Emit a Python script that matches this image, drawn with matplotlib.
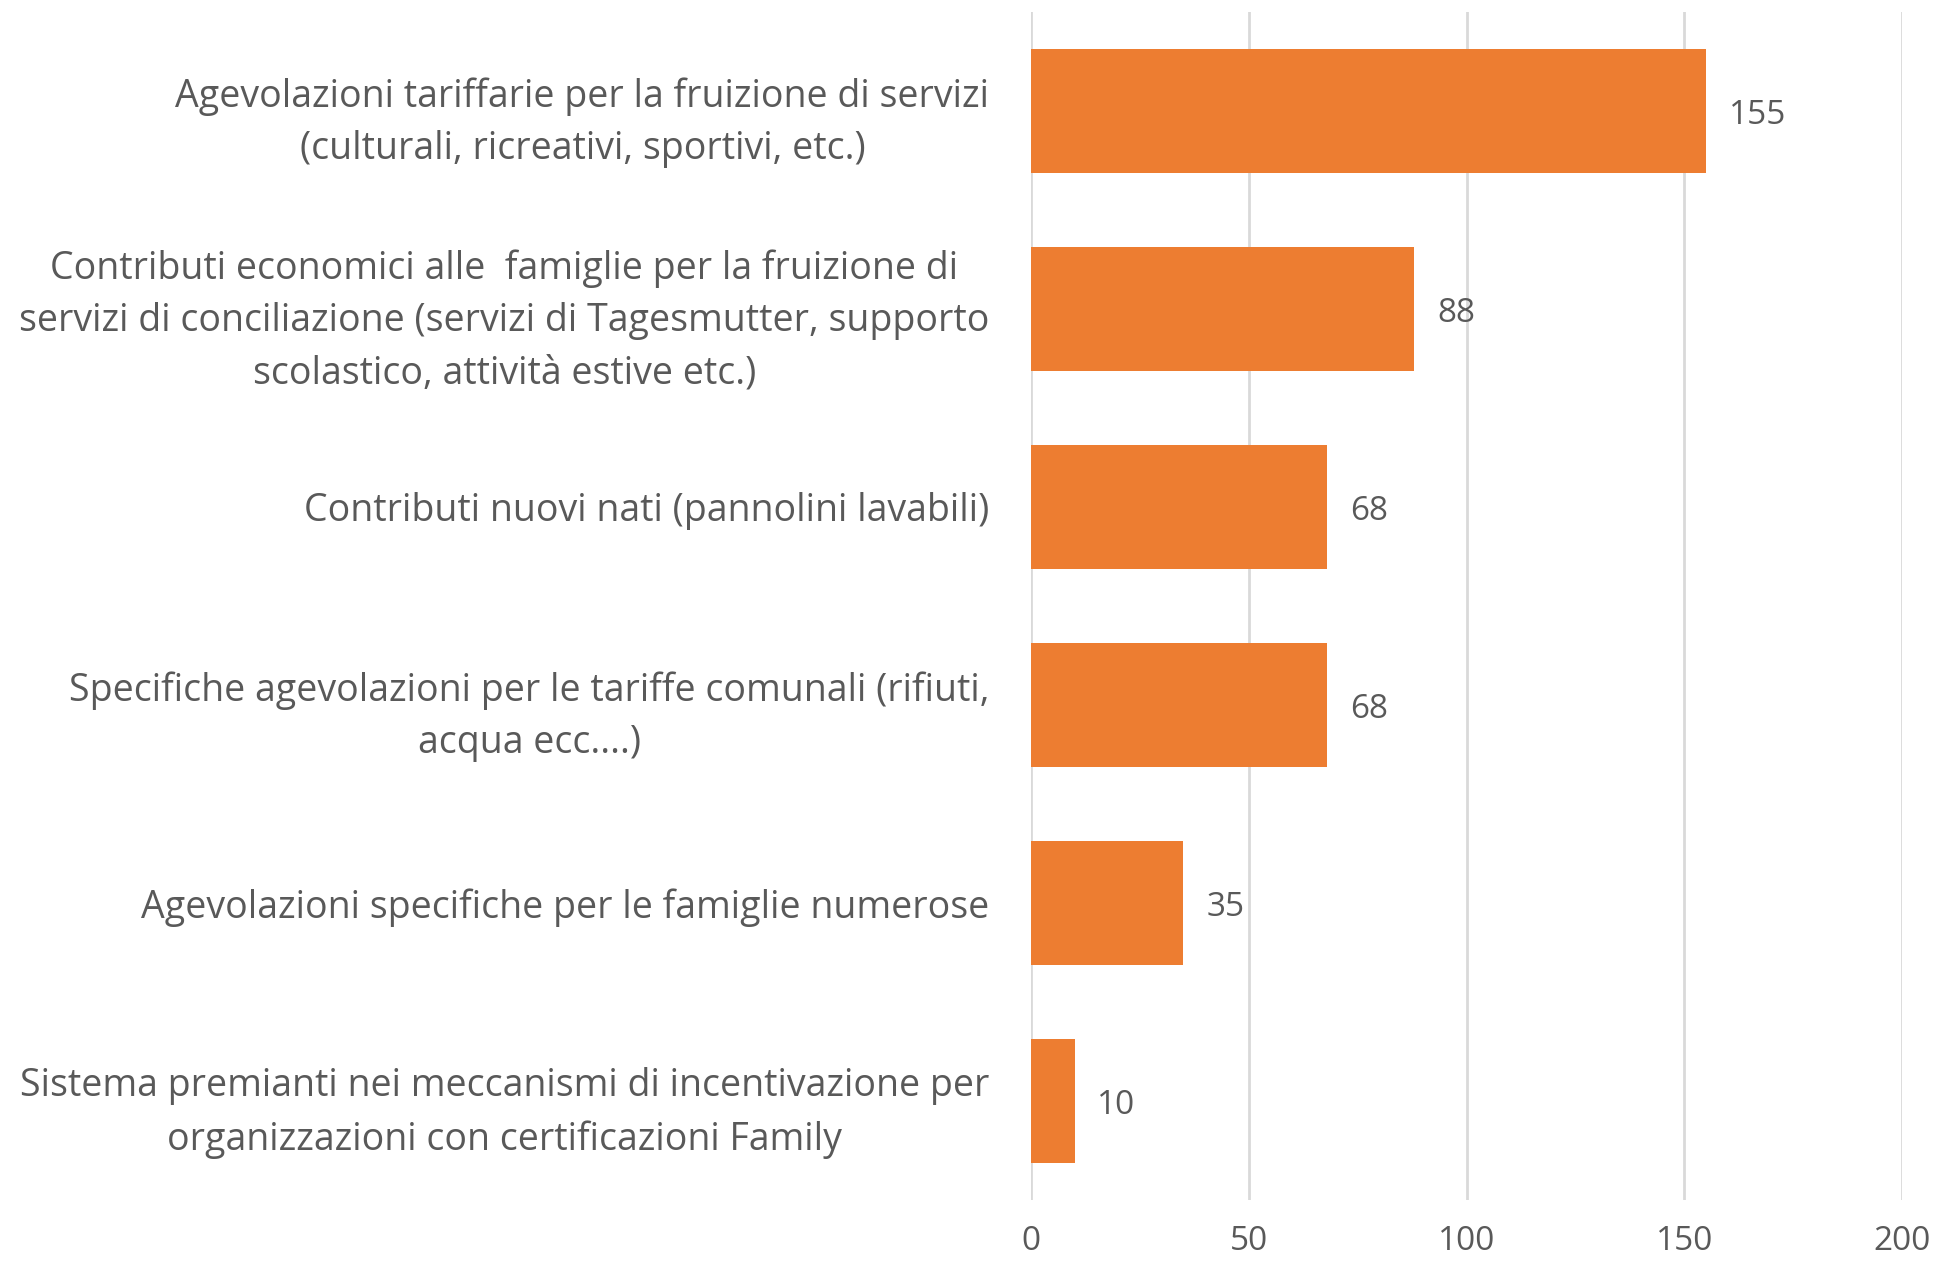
import matplotlib.pyplot as plt
import numpy as np

# dati
categorie = [
    "Agevolazioni tariffarie per la fruizione di servizi\n(culturali, ricreativi, sportivi, etc.)",
    "Contributi economici alle  famiglie per la fruizione di\nservizi di conciliazione (servizi di Tagesmutter, supporto\nscolastico, attività estive etc.)",
    "Contributi nuovi nati (pannolini lavabili)",
    "Specifiche agevolazioni per le tariffe comunali (rifiuti,\nacqua ecc....)",
    "Agevolazioni specifiche per le famiglie numerose",
    "Sistema premianti nei meccanismi di incentivazione per\norganizzazioni con certificazioni Family",
]
valori = [155, 88, 68, 68, 35, 10]
x_ticks = [0, 50, 100, 150, 200]

plt.rcParams['font.family'] = ['Open Sans', 'DejaVu Sans']
grigio = '#595959'

fig = plt.figure(figsize=(19.47, 12.61), dpi=100)
ax = fig.add_axes([1031 / 1947, 1 - 1200 / 1261, 871 / 1947, 1188 / 1261])

y = np.arange(len(valori))
ax.barh(y, valori, height=0.63, color='#ED7D31', zorder=3)
for yi, v in zip(y, valori):
    ax.text(v + 5.2, yi, str(v), va='center_baseline', ha='left', fontsize=24, color=grigio)

ax.set_ylim(len(valori) - 0.5, -0.5)
ax.set_xlim(0, 200)
ax.set_xticks(x_ticks)
ax.set_yticks(y)
ax.set_yticklabels(categorie, multialignment='center', fontsize=27, color=grigio, linespacing=1.5)
ax.tick_params(axis='y', length=0, pad=30)
ax.tick_params(axis='x', length=0, pad=18, labelsize=24, labelcolor=grigio)
ax.grid(axis='x', color='#D9D9D9', linewidth=2, zorder=0)
for s in ax.spines.values():
    s.set_visible(False)

fig.savefig('out.png', dpi=100)
